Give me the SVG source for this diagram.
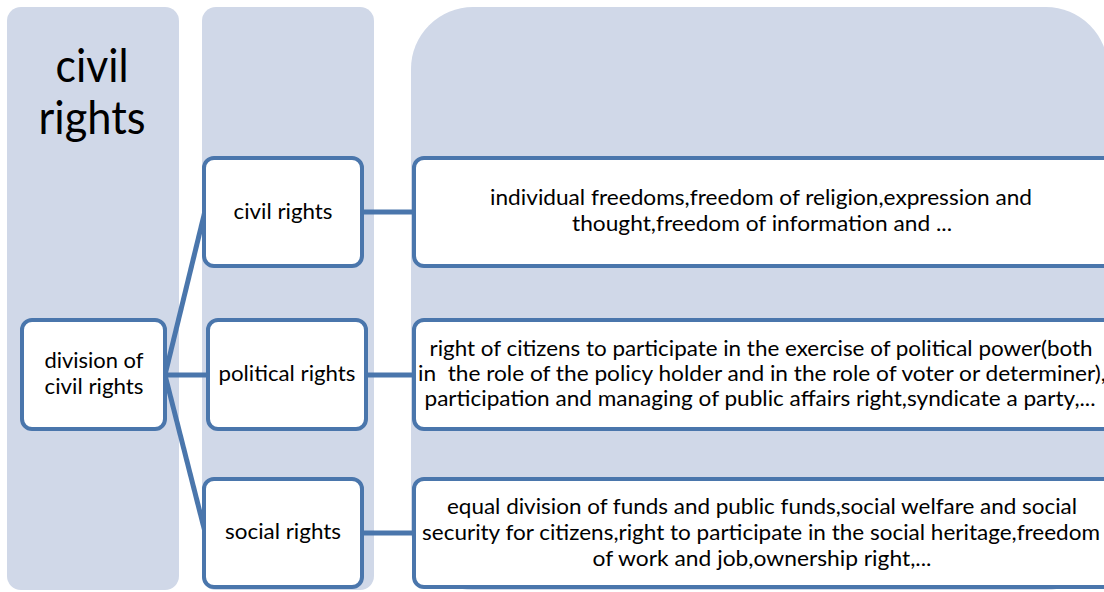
<svg xmlns="http://www.w3.org/2000/svg" width="1104" height="592" viewBox="0 0 1104 592">
<style>
.col{fill:#D0D8E8;}
.node{fill:#FFFFFF;stroke:#4A76AC;stroke-width:4;}
.conn{stroke:#4A76AC;stroke-width:5;fill:none;}
text{font-family:Lato,"Open Sans","Liberation Sans",sans-serif;fill:#000;text-anchor:middle;}
.t{font-size:22px;}
.big{font-size:46px;}
</style>
<rect width="1104" height="592" fill="#FFFFFF"/>
<g id="columns">
<rect class="col" x="7" y="7" width="172" height="583" rx="14"/>
<rect class="col" x="202" y="7" width="172" height="583" rx="14"/>
<rect class="col" x="411" y="7" width="697" height="583" rx="62"/>
</g>
<g id="title">
<text class="big" x="92" y="82" textLength="73" lengthAdjust="spacingAndGlyphs">civil</text>
<text class="big" x="92" y="134" textLength="107" lengthAdjust="spacingAndGlyphs">rights</text>
</g>
<g id="connectors">
<line class="conn" x1="165" y1="375" x2="205" y2="211"/>
<line class="conn" x1="165" y1="375" x2="208" y2="375"/>
<line class="conn" x1="165" y1="375" x2="205" y2="532"/>
<line class="conn" x1="362" y1="212" x2="414" y2="212"/>
<line class="conn" x1="366" y1="375" x2="414" y2="375"/>
<line class="conn" x1="362" y1="533" x2="414" y2="533"/>
</g>
<g id="node-division">
<rect class="node" x="22" y="320" width="143" height="109" rx="10"/>
<text class="t" x="94" y="368" textLength="99" lengthAdjust="spacingAndGlyphs">division of</text>
<text class="t" x="94" y="394" textLength="99" lengthAdjust="spacingAndGlyphs">civil rights</text>
</g>
<g id="node-civil">
<rect class="node" x="204" y="158" width="158" height="108" rx="10"/>
<text class="t" x="283" y="219" textLength="99" lengthAdjust="spacingAndGlyphs">civil rights</text>
</g>
<g id="node-political">
<rect class="node" x="208" y="320" width="158" height="109" rx="10"/>
<text class="t" x="287" y="381" textLength="137" lengthAdjust="spacingAndGlyphs">political rights</text>
</g>
<g id="node-social">
<rect class="node" x="204" y="479" width="158" height="108" rx="10"/>
<text class="t" x="283" y="539" textLength="116" lengthAdjust="spacingAndGlyphs">social rights</text>
</g>
<g id="desc-civil">
<rect class="node" x="414" y="158" width="700" height="108" rx="10"/>
<text class="t" x="761" y="205" textLength="542" lengthAdjust="spacingAndGlyphs">individual freedoms,freedom of religion,expression and</text>
<text class="t" x="762" y="231" textLength="380" lengthAdjust="spacingAndGlyphs">thought,freedom of information and ...</text>
</g>
<g id="desc-political">
<rect class="node" x="414" y="320" width="700" height="109" rx="10"/>
<text class="t" x="761" y="356" textLength="663" lengthAdjust="spacingAndGlyphs">right of citizens to participate in the exercise of political power(both</text>
<text class="t" x="762" y="381" textLength="688" lengthAdjust="spacingAndGlyphs" xml:space="preserve">in  the role of the policy holder and in the role of voter or determiner),</text>
<text class="t" x="760" y="406" textLength="671" lengthAdjust="spacingAndGlyphs">participation and managing of public affairs right,syndicate a party,...</text>
</g>
<g id="desc-social">
<rect class="node" x="414" y="479" width="700" height="108" rx="10"/>
<text class="t" x="762" y="514" textLength="630" lengthAdjust="spacingAndGlyphs">equal division of funds and public funds,social welfare and social</text>
<text class="t" x="761" y="540" textLength="678" lengthAdjust="spacingAndGlyphs">security for citizens,right to participate in the social heritage,freedom</text>
<text class="t" x="762" y="566" textLength="339" lengthAdjust="spacingAndGlyphs">of work and job,ownership right,...</text>
</g>
</svg>
